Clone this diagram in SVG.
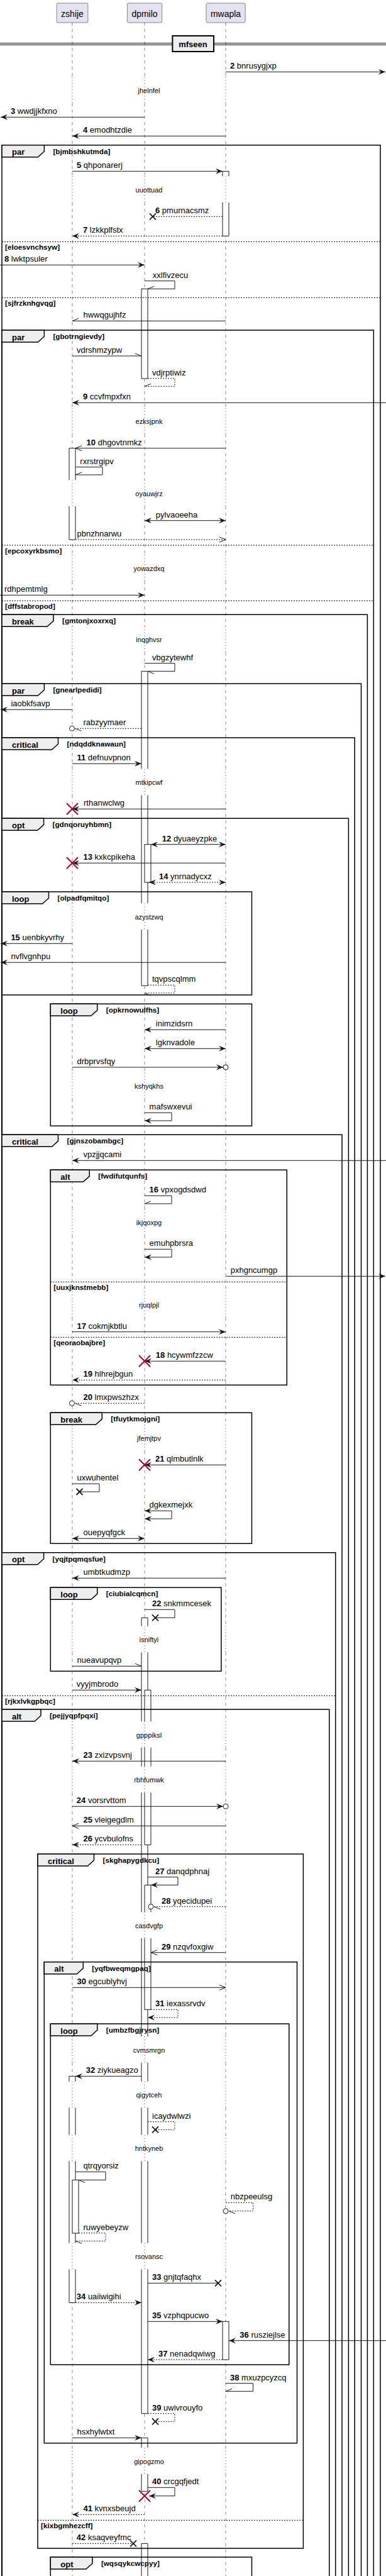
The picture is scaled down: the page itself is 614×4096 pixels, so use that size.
<svg xmlns="http://www.w3.org/2000/svg" width="614" height="4096" viewBox="0 0 614 4096">
<style>
.pb{fill:#E2E2F0;stroke:#181818;stroke-width:0.5}
.pt{font-family:"Liberation Sans",Arial,sans-serif;font-size:14px;text-anchor:middle;fill:#000}
.ll{fill:none;stroke:#181818;stroke-width:0.5;stroke-dasharray:5,5}
.dl{fill:none;stroke:#A80036;stroke-width:1;stroke-dasharray:1,4}
.fr{fill:none;stroke:#000;stroke-width:1.5}
.tab{fill:#EEEEEE;stroke:#000;stroke-width:1.5}
.el{fill:none;stroke:#000;stroke-width:1;stroke-dasharray:2,2}
.tl{font-family:"Liberation Sans",Arial,sans-serif;font-size:13px;font-weight:bold;fill:#000}
.cd{font-family:"Liberation Sans",Arial,sans-serif;font-size:11.7px;font-weight:bold;fill:#000}
.af{fill:#fff;stroke:none}
.as{fill:none;stroke:#181818;stroke-width:1}
.act{fill:#fff;stroke:#181818;stroke-width:1}
.m{fill:none;stroke:#181818;stroke-width:1}
.d{stroke-dasharray:2,2}
.t{font-family:"Liberation Sans",Arial,sans-serif;font-size:13px;fill:#000}
.n{font-weight:bold}
.dt{font-family:"Liberation Sans",Arial,sans-serif;font-size:11px;text-anchor:middle;fill:#000}
.ci{fill:#fff;stroke:#181818;stroke-width:1}
</style>
<defs>
<marker id="fh" markerUnits="userSpaceOnUse" markerWidth="12" markerHeight="10" viewBox="0 0 12 10" refX="11" refY="5" orient="auto-start-reverse" overflow="visible"><path d="M0,0.5 L11,5 L0,9.5 L4,5 Z" fill="#181818" stroke="none"/></marker>
<marker id="oh" markerUnits="userSpaceOnUse" markerWidth="12" markerHeight="10" viewBox="0 0 12 10" refX="10" refY="5" orient="auto-start-reverse" overflow="visible"><path d="M0,1 L10,5 L0,9" fill="none" stroke="#181818" stroke-width="1"/></marker>
<marker id="hu" markerUnits="userSpaceOnUse" markerWidth="12" markerHeight="10" viewBox="0 0 12 10" refX="10" refY="5" orient="auto" overflow="visible"><path d="M0,1 L10,5" fill="none" stroke="#181818" stroke-width="1"/></marker>
<marker id="hl" markerUnits="userSpaceOnUse" markerWidth="12" markerHeight="10" viewBox="0 0 12 10" refX="10" refY="5" orient="auto" overflow="visible"><path d="M0,9 L10,5" fill="none" stroke="#181818" stroke-width="1"/></marker>
<path id="rx" d="M-9 -9 L9 9 M-9 9 L9 -9" fill="none" stroke="#A80036" stroke-width="2"/>
<path id="bx" d="M-5 -5 L5 5 M-5 5 L5 -5" fill="none" stroke="#181818" stroke-width="1.8"/>
<path id="lld" d="M0 36V122.4M0 164V280.4M0 322V648.7M0 690.3V763.4M0 805V882.4M0 924V995.7M0 1037.3V1222.7M0 1264.3V1436.4M0 1478V1705.7M0 1747.3V1922.7M0 1964.3V2053.7M0 2095.3V2265.7M0 2307.3V2585.7M0 2627.3V2737.1M0 2778.7V2808.7M0 2850.3V3040.4M0 3082V3238.1M0 3279.7V3309.7M0 3351.3V3394.7M0 3436.3V3566.7M0 3608.3V3892.1M0 3933.7V4096"/>
<path id="llt" d="M0 122.4V164M0 280.4V322M0 648.7V690.3M0 763.4V805M0 882.4V924M0 995.7V1037.3M0 1222.7V1264.3M0 1436.4V1478M0 1705.7V1747.3M0 1922.7V1964.3M0 2053.7V2095.3M0 2265.7V2307.3M0 2585.7V2627.3M0 2737.1V2778.7M0 2808.7V2850.3M0 3040.4V3082M0 3238.1V3279.7M0 3309.7V3351.3M0 3394.7V3436.3M0 3566.7V3608.3M0 3892.1V3933.7"/>
</defs>
<rect x="0" y="0" width="614" height="4096" fill="#fff"/>

<g id="lifelines">
<use href="#lld" x="115" class="ll"/><use href="#lld" x="230" class="ll"/><use href="#lld" x="359" class="ll"/>
<use href="#llt" x="115" class="dl"/><use href="#llt" x="230" class="dl"/><use href="#llt" x="359" class="dl"/>
</g>

<g id="p-zshije"><rect x="90.1" y="5" width="49.8" height="31" rx="2.5" class="pb"/><text x="115" y="26.5" class="pt">zshije</text></g>
<g id="p-dpmilo"><rect x="202.4" y="5" width="55.3" height="31" rx="2.5" class="pb"/><text x="230" y="26.5" class="pt">dpmilo</text></g>
<g id="p-mwapla"><rect x="327.9" y="5" width="62.3" height="31" rx="2.5" class="pb"/><text x="359" y="26.5" class="pt">mwapla</text></g>

<g id="divider-mfseen">
<line x1="0" y1="68.7" x2="614" y2="68.7" stroke="#000" stroke-width="1"/>
<line x1="0" y1="71.3" x2="614" y2="71.3" stroke="#000" stroke-width="1"/>
<rect x="274.4" y="57" width="65.6" height="25" fill="#EEEEEE" stroke="#000" stroke-width="2"/>
<text x="307" y="74.5" class="tl" text-anchor="middle">mfseen</text>
</g>

<g id="activations">
<rect class="af" x="354" y="272.3" width="10" height="8.1"/><rect class="af" x="354" y="322" width="10" height="53.3"/>
<path class="as" d="M354 280.4V272.3H364V280.4M354 322V375.3H364V322"/>
<rect class="act" x="225" y="459.3" width="10" height="142.7"/>
<rect class="af" x="110" y="712.7" width="10" height="50.7"/><rect class="af" x="110" y="805" width="10" height="53"/>
<path class="as" d="M110 763.4V712.7H120V763.4M110 805V858H120V805"/>
<rect class="af" x="225" y="1067.3" width="10" height="155.4"/><rect class="af" x="225" y="1264.3" width="10" height="172.1"/><rect class="af" x="225" y="1478" width="10" height="89.3"/>
<path class="as" d="M225 1222.7V1067.3H235V1222.7M225 1264.3V1436.4M235 1264.3V1436.4M225 1478V1567.3H235V1478"/>
<rect class="act" x="230" y="1342.7" width="10" height="60.3"/>
<rect class="af" x="225" y="2572.3" width="10" height="13.4"/><rect class="af" x="225" y="2627.3" width="10" height="109.8"/><rect class="af" x="225" y="2778.7" width="10" height="30"/><rect class="af" x="225" y="2850.3" width="10" height="190.1"/><rect class="af" x="225" y="3082" width="10" height="156.1"/><rect class="af" x="225" y="3279.7" width="10" height="30"/><rect class="af" x="225" y="3351.3" width="10" height="43.4"/><rect class="af" x="225" y="3436.3" width="10" height="130.4"/><rect class="af" x="225" y="3608.3" width="10" height="229.4"/>
<path class="as" d="M225 2585.7V2572.3H235V2585.7M225 2627.3V2737.1M235 2627.3V2737.1M225 2778.7V2808.7M235 2778.7V2808.7M225 2850.3V3040.4M235 2850.3V3040.4M225 3082V3238.1M235 3082V3238.1M225 3279.7V3309.7M235 3279.7V3309.7M225 3351.3V3394.7M235 3351.3V3394.7M225 3436.3V3566.7M235 3436.3V3566.7M225 3608.3V3837.7H235V3608.3"/>
<rect class="af" x="230" y="2687.3" width="10" height="49.8"/><rect class="af" x="230" y="2778.7" width="10" height="30"/><rect class="af" x="230" y="2850.3" width="10" height="83"/>
<path class="as" d="M230 2737.1V2687.3H240V2737.1M230 2778.7V2808.7M240 2778.7V2808.7M230 2850.3V2933.3H240V2850.3"/>
<rect class="af" x="230" y="2997.3" width="10" height="43.1"/><rect class="af" x="230" y="3082" width="10" height="113.3"/>
<path class="as" d="M230 3040.4V2997.3H240V3040.4M230 3082V3195.3H240V3082"/>
<rect class="af" x="110" y="3301.3" width="10" height="8.4"/><rect class="af" x="110" y="3351.3" width="10" height="43.4"/><rect class="af" x="110" y="3436.3" width="10" height="130.4"/><rect class="af" x="110" y="3608.3" width="10" height="53"/>
<path class="as" d="M110 3309.7V3301.3H120V3309.7M110 3351.3V3394.7M120 3351.3V3394.7M110 3436.3V3566.7M120 3436.3V3566.7M110 3608.3V3661.3H120V3608.3"/>
<rect class="act" x="115" y="3466.3" width="10" height="84.7"/>
<rect class="act" x="354" y="3691.3" width="10" height="60.7"/>
<rect class="af" x="225" y="3876.3" width="10" height="15.8"/><rect class="af" x="225" y="3933.7" width="10" height="27.6"/>
<path class="as" d="M225 3892.1V3876.3H235V3892.1M225 3933.7V3961.3H235V3933.7"/>
<rect class="af" x="225" y="4044.3" width="10" height="55.7"/>
<path class="as" d="M225 4100V4044.3H235V4100"/>
</g>

<g id="frames">
<g id="f1"><path class="fr" d="M3 4100V230.7H605V4100"/><path class="tab" d="M3 230.7H70.4V240.7L60.4 249.7H3Z"/><text class="tl" x="19" y="246.2">par</text><text class="cd" x="84.4" y="244.7">[bjmbshkutmda]</text>
<line class="el" x1="3" y1="384.3" x2="605" y2="384.3"/><text class="cd" x="8" y="396.8">[eloesvnchsyw]</text>
<line class="el" x1="3" y1="473.3" x2="605" y2="473.3"/><text class="cd" x="8" y="485.8">[sjfrzknhgvqg]</text></g>
<g id="f2"><path class="fr" d="M3 4100V525H594.3V4100"/><path class="tab" d="M3 525H70.4V535L60.4 544H3Z"/><text class="tl" x="19" y="540.5">par</text><text class="cd" x="84.4" y="539">[gbotrngievdy]</text>
<line class="el" x1="3" y1="867" x2="594.3" y2="867"/><text class="cd" x="8" y="879.5">[epcoxyrkbsmo]</text>
<line class="el" x1="3" y1="955.3" x2="594.3" y2="955.3"/><text class="cd" x="8" y="967.8">[dffstabropod]</text></g>
<g id="f3"><path class="fr" d="M3 4100V977.3H584.4V4100"/><path class="tab" d="M3 977.3H85V987.3L75 996.3H3Z"/><text class="tl" x="19" y="992.8">break</text><text class="cd" x="99" y="991.3">[gmtonjxoxrxq]</text></g>
<g id="f4"><path class="fr" d="M3 4100V1087H574.5V4100"/><path class="tab" d="M3 1087H70.4V1097L60.4 1106H3Z"/><text class="tl" x="19" y="1102.5">par</text><text class="cd" x="84.4" y="1101">[gnearlpedidi]</text></g>
<g id="f5"><path class="fr" d="M3 4100V1173H564.2V4100"/><path class="tab" d="M3 1173H92.5V1183L82.5 1192H3Z"/><text class="tl" x="19" y="1188.5">critical</text><text class="cd" x="106.5" y="1187">[ndqddknawaun]</text></g>
<g id="f6"><path class="fr" d="M3 4100V1301.3H554.4V4100"/><path class="tab" d="M3 1301.3H69.6V1311.3L59.6 1320.3H3Z"/><text class="tl" x="19" y="1316.8">opt</text><text class="cd" x="83.6" y="1315.3">[gdnqoruyhbmn]</text></g>
<g id="f7"><rect class="fr" x="3" y="1418" width="397.5" height="164"/><path class="tab" d="M3 1418H77.5V1428L67.5 1437H3Z"/><text class="tl" x="19" y="1433.5">loop</text><text class="cd" x="91.5" y="1432">[olpadfqmitqo]</text></g>
<g id="f8"><rect class="fr" x="80.3" y="1596.3" width="320.2" height="194"/><path class="tab" d="M80.3 1596.3H154.8V1606.3L144.8 1615.3H80.3Z"/><text class="tl" x="96.3" y="1611.8">loop</text><text class="cd" x="168.8" y="1610.3">[opkrnowulfhs]</text></g>
<g id="f9"><path class="fr" d="M3 4100V1804.3H544V4100"/><path class="tab" d="M3 1804.3H92.5V1814.3L82.5 1823.3H3Z"/><text class="tl" x="19" y="1819.8">critical</text><text class="cd" x="106.5" y="1818.3">[gjnszobambgc]</text></g>
<g id="f10"><rect class="fr" x="80.3" y="1860.3" width="376" height="342"/><path class="tab" d="M80.3 1860.3H142.3V1870.3L132.3 1879.3H80.3Z"/><text class="tl" x="96.3" y="1875.8">alt</text><text class="cd" x="156.3" y="1874.3">[fwdifutqunfs]</text>
<line class="el" x1="80.3" y1="2038.3" x2="456.3" y2="2038.3"/><text class="cd" x="85.3" y="2050.8">[uuxjknstmebb]</text>
<line class="el" x1="80.3" y1="2126.3" x2="456.3" y2="2126.3"/><text class="cd" x="85.3" y="2138.8">[qeoraobajbre]</text></g>
<g id="f11"><rect class="fr" x="80.3" y="2246.3" width="320.2" height="208"/><path class="tab" d="M80.3 2246.3H162.3V2256.3L152.3 2265.3H80.3Z"/><text class="tl" x="96.3" y="2261.8">break</text><text class="cd" x="176.3" y="2260.3">[tfuytkmojgni]</text></g>
<g id="f12"><path class="fr" d="M3 4100V2468.7H533.7V4100"/><path class="tab" d="M3 2468.7H69.6V2478.7L59.6 2487.7H3Z"/><text class="tl" x="19" y="2484.2">opt</text><text class="cd" x="83.6" y="2482.7">[yqjtpqmqsfue]</text>
<line class="el" x1="3" y1="2696.3" x2="533.7" y2="2696.3"/><text class="cd" x="8" y="2708.8">[rjkxlvkgpbqc]</text></g>
<g id="f13"><rect class="fr" x="80.3" y="2524.3" width="271.6" height="133"/><path class="tab" d="M80.3 2524.3H154.8V2534.3L144.8 2543.3H80.3Z"/><text class="tl" x="96.3" y="2539.8">loop</text><text class="cd" x="168.8" y="2538.3">[ciubialcqmcn]</text></g>
<g id="f14"><path class="fr" d="M3 4100V2718H523.8V4100"/><path class="tab" d="M3 2718H65V2728L55 2737H3Z"/><text class="tl" x="19" y="2733.5">alt</text><text class="cd" x="79" y="2732">[pejjyqpfpqxi]</text></g>
<g id="f15"><rect class="fr" x="60" y="2948" width="422.4" height="1104"/><path class="tab" d="M60 2948H149.5V2958L139.5 2967H60Z"/><text class="tl" x="76" y="2963.5">critical</text><text class="cd" x="163.5" y="2962">[skghapygdkcu]</text>
<line class="el" x1="60" y1="4007.3" x2="482.4" y2="4007.3"/><text class="cd" x="65" y="4019.8">[kixbgmhezcff]</text></g>
<g id="f16"><rect class="fr" x="70.3" y="3119.7" width="402.2" height="765"/><path class="tab" d="M70.3 3119.7H132.3V3129.7L122.3 3138.7H70.3Z"/><text class="tl" x="86.3" y="3135.2">alt</text><text class="cd" x="146.3" y="3133.7">[yqfbweqmgpaq]</text></g>
<g id="f17"><rect class="fr" x="80.3" y="3218" width="379.5" height="542"/><path class="tab" d="M80.3 3218H154.8V3228L144.8 3237H80.3Z"/><text class="tl" x="96.3" y="3233.5">loop</text><text class="cd" x="168.8" y="3232">[umbzfbgjrysn]</text></g>
<g id="f18"><path class="fr" d="M80.3 4100V4066H400.5V4100"/><path class="tab" d="M80.3 4066H146.9V4076L136.9 4085H80.3Z"/><text class="tl" x="96.3" y="4081.5">opt</text><text class="cd" x="160.9" y="4080">[wqsqykcwcpyy]</text></g>
</g>

<g id="connectors">
<path class="m" d="M359 114.3H613" marker-end="url(#fh)"/>
<path class="m" d="M230 186.3H1" marker-end="url(#fh)"/>
<path class="m" d="M359 216.3H115" marker-end="url(#fh)"/>
<path class="m" d="M115 272.3H354" marker-end="url(#fh)"/>
<path class="m d" d="M354 344.3H243"/><use href="#bx" x="243" y="344.3"/>
<path class="m d" d="M354 375.3H115" marker-end="url(#fh)"/>
<path class="m" d="M0 421.3H230" marker-end="url(#fh)"/>
<path class="m" d="M230 446.7H278V459.3H235" marker-end="url(#hl)"/>
<path class="m" d="M359 510.3H115" marker-end="url(#hl)"/>
<path class="m" d="M115 566H225" marker-end="url(#hu)"/>
<path class="m d" d="M235 601.7H278V614.3H230" marker-end="url(#hl)"/>
<path class="m" d="M614 640.3H115" marker-end="url(#fh)"/>
<path class="m" d="M359 712.7H120" marker-end="url(#oh)"/>
<path class="m" d="M120 742.7H163V755H120" marker-end="url(#hl)"/>
<path class="m" d="M230 827.7H359" marker-start="url(#fh)" marker-end="url(#fh)"/>
<path class="m d" d="M120 858H359" marker-end="url(#oh)"/>
<path class="m" d="M0 946.3H230" marker-end="url(#fh)"/>
<path class="m" d="M230 1054.7H278V1067.3H235" marker-end="url(#hu)"/>
<path class="m" d="M115 1128.3H1" marker-end="url(#fh)"/>
<path class="m d" d="M225 1158.3H119.5" marker-end="url(#hu)"/><circle class="ci" cx="114.5" cy="1158.3" r="4"/>
<path class="m" d="M115 1214.3H225" marker-end="url(#fh)"/>
<path class="m" d="M359 1286.3H115" marker-end="url(#fh)"/><use href="#rx" x="115" y="1286.3"/>
<path class="m" d="M240 1342.7H359" marker-start="url(#fh)" marker-end="url(#fh)"/>
<path class="m" d="M359 1372.3H115" marker-end="url(#fh)"/><use href="#rx" x="115" y="1372.3"/>
<path class="m d" d="M237 1403H359" marker-start="url(#fh)" marker-end="url(#fh)"/>
<path class="m" d="M115 1500.3H1" marker-end="url(#fh)"/>
<path class="m" d="M359 1530.3H1" marker-end="url(#fh)"/>
<path class="m d" d="M235 1566.3H278V1579H230" marker-end="url(#hu)"/>
<path class="m" d="M359 1637.3H230" marker-end="url(#fh)"/>
<path class="m" d="M230 1667.3H359" marker-start="url(#fh)" marker-end="url(#fh)"/>
<path class="m" d="M115 1697H355" marker-end="url(#fh)"/><circle class="ci" cx="359" cy="1697" r="4"/>
<path class="m" d="M230 1769.3H273V1782H230" marker-end="url(#fh)"/>
<path class="m" d="M614 1845.3H115" marker-end="url(#fh)"/>
<path class="m" d="M230 1901.3H273V1914H230" marker-end="url(#hl)"/>
<path class="m" d="M230 1986.3H273V1999H230" marker-end="url(#fh)"/>
<path class="m" d="M359 2029.3H613" marker-end="url(#fh)"/>
<path class="m" d="M115 2117.7H359" marker-end="url(#fh)"/>
<path class="m" d="M359 2164.3H230" marker-end="url(#fh)"/><use href="#rx" x="230" y="2164.3"/>
<path class="m d" d="M359 2194.3H115" marker-end="url(#fh)"/>
<path class="m d" d="M230 2231.3H119.5" marker-end="url(#hu)"/><circle class="ci" cx="114.5" cy="2231.3" r="4"/>
<path class="m" d="M359 2329.3H230" marker-end="url(#fh)"/><use href="#rx" x="230" y="2329.3"/>
<path class="m" d="M115 2359.3H158V2372H126.5"/><use href="#bx" x="126.5" y="2372"/>
<path class="m" d="M230 2402.3H273V2415H230" marker-start="url(#fh)" marker-end="url(#fh)"/>
<path class="m" d="M115 2446.3H230" marker-start="url(#fh)" marker-end="url(#fh)"/>
<path class="m" d="M359 2509.3H115" marker-end="url(#fh)"/>
<path class="m" d="M230 2559.3H278V2572.3H247"/><use href="#bx" x="247" y="2572.3"/>
<path class="m" d="M115 2649.3H225" marker-end="url(#hu)"/>
<path class="m" d="M115 2687.3H225" marker-end="url(#fh)"/>
<path class="m" d="M359 2800.3H115" marker-end="url(#fh)"/>
<path class="m" d="M115 2872.3H355" marker-end="url(#fh)"/><circle class="ci" cx="359" cy="2872.3" r="4"/>
<path class="m" d="M359 2903.3H115" marker-end="url(#oh)"/>
<path class="m d" d="M225 2933.3H115" marker-end="url(#fh)"/>
<path class="m" d="M235 2984.7H283V2997.3H240" marker-end="url(#fh)"/>
<path class="m d" d="M359 3031.7H245" marker-end="url(#hu)"/><circle class="ci" cx="240" cy="3031.7" r="4"/>
<path class="m" d="M359 3104.7H240" marker-end="url(#oh)"/>
<path class="m" d="M115 3160.3H359" marker-end="url(#oh)"/>
<path class="m d" d="M240 3195.3H283V3208H235" marker-end="url(#fh)"/>
<path class="m" d="M225 3301.3H120" marker-end="url(#fh)"/>
<path class="m d" d="M235 3373.7H278V3386.3H247"/><use href="#bx" x="247" y="3386.3"/>
<path class="m" d="M120 3453.3H168V3466.3H125" marker-end="url(#hu)"/>
<path class="m d" d="M359 3502.3H402.5V3515.7H364" marker-end="url(#hu)"/><circle class="ci" cx="359" cy="3515.7" r="4"/>
<path class="m d" d="M125 3550.7H168V3563.3H120" marker-end="url(#hu)"/>
<path class="m" d="M235 3630.3H347"/><use href="#bx" x="347" y="3630.3"/>
<path class="m d" d="M120 3661.3H225" marker-end="url(#fh)"/>
<path class="m" d="M235 3691.3H354" marker-end="url(#fh)"/>
<path class="m" d="M614 3721.7H364" marker-end="url(#fh)"/>
<path class="m d" d="M354 3752H235" marker-end="url(#fh)"/>
<path class="m" d="M359 3789.7H402.5V3802.3H359" marker-end="url(#hl)"/>
<path class="m d" d="M235 3837.7H278V3850.3H247"/><use href="#bx" x="247" y="3850.3"/>
<path class="m" d="M115 3876.3H225" marker-end="url(#fh)"/>
<path class="m" d="M235 3955.3H278V3968.7H237" marker-end="url(#fh)"/><use href="#rx" x="230" y="3968.7"/>
<path class="m d" d="M230 3998.3H115" marker-end="url(#fh)"/>
<path class="m d" d="M115 4044.3H212"/><use href="#bx" x="212" y="4044.3"/>
</g>

<g id="message-labels">
<text class="t" x="366" y="109.3"><tspan class="n">2</tspan> bnrusygjxp</text>
<text class="t" x="17" y="181.3"><tspan class="n">3</tspan> wwdjjkfxno</text>
<text class="t" x="132" y="211.3"><tspan class="n">4</tspan> emodhtzdie</text>
<text class="t" x="122" y="267.3"><tspan class="n">5</tspan> qhponarerj</text>
<text class="t" x="247" y="339.3"><tspan class="n">6</tspan> pmurnacsmz</text>
<text class="t" x="132" y="370.3"><tspan class="n">7</tspan> lzkkplfstx</text>
<text class="t" x="7" y="416.3"><tspan class="n">8</tspan> lwktpsuler</text>
<text class="t" x="242.8" y="441.7">xxlfivzecu</text>
<text class="t" x="132.5" y="505.3">hwwqgujhfz</text>
<text class="t" x="122" y="561">vdrshmzypw</text>
<text class="t" x="242" y="596.7">vdjrptiwiz</text>
<text class="t" x="132" y="635.3"><tspan class="n">9</tspan> ccvfmpxfxn</text>
<text class="t" x="137.6" y="707.7"><tspan class="n">10</tspan> dhgovtnmkz</text>
<text class="t" x="127.3" y="737.7">rxrstrgipv</text>
<text class="t" x="247.8" y="822.7">pylvaoeeha</text>
<text class="t" x="122.5" y="853">pbnzhnarwu</text>
<text class="t" x="7" y="941.3">rdhpemtmlg</text>
<text class="t" x="242" y="1049.7">vbgzytewhf</text>
<text class="t" x="17.4" y="1123.3">iaobkfsavp</text>
<text class="t" x="132.5" y="1153.3">rabzyymaer</text>
<text class="t" x="122.5" y="1209.3"><tspan class="n">11</tspan> defnuvpnon</text>
<text class="t" x="133" y="1281.3">rthanwclwg</text>
<text class="t" x="257.8" y="1337.7"><tspan class="n">12</tspan> dyuaeyzpke</text>
<text class="t" x="132.5" y="1367.3"><tspan class="n">13</tspan> kxkcpikeha</text>
<text class="t" x="253" y="1398"><tspan class="n">14</tspan> ynrnadycxz</text>
<text class="t" x="17.4" y="1495.3"><tspan class="n">15</tspan> uenbkyvrhy</text>
<text class="t" x="17.4" y="1525.3">nvflvgnhpu</text>
<text class="t" x="242" y="1561.3">tqvpscqlmm</text>
<text class="t" x="247.8" y="1632.3">inimzidsrn</text>
<text class="t" x="247.8" y="1662.3">lgknvadole</text>
<text class="t" x="122.5" y="1692">drbprvsfqy</text>
<text class="t" x="237.6" y="1764.3">mafswxevui</text>
<text class="t" x="132.5" y="1840.3">vpzjjqcami</text>
<text class="t" x="237.6" y="1896.3"><tspan class="n">16</tspan> vpxogdsdwd</text>
<text class="t" x="237.6" y="1981.3">emuhpbrsra</text>
<text class="t" x="366.7" y="2024.3">pxhgncumgp</text>
<text class="t" x="122.5" y="2112.7"><tspan class="n">17</tspan> cokmjkbtlu</text>
<text class="t" x="247.8" y="2159.3"><tspan class="n">18</tspan> hcywmfzzcw</text>
<text class="t" x="132.5" y="2189.3"><tspan class="n">19</tspan> hlhrejbgun</text>
<text class="t" x="132.5" y="2226.3"><tspan class="n">20</tspan> lmxpwszhzx</text>
<text class="t" x="247" y="2324.3"><tspan class="n">21</tspan> qlmbutlnlk</text>
<text class="t" x="122.5" y="2354.3">uxwuhentel</text>
<text class="t" x="237.6" y="2397">dgkexmejxk</text>
<text class="t" x="132.5" y="2441.3">ouepyqfgck</text>
<text class="t" x="132.5" y="2504.3">umbtkudmzp</text>
<text class="t" x="242" y="2554.3"><tspan class="n">22</tspan> snkmmcesek</text>
<text class="t" x="122.5" y="2644.3">nueavupqvp</text>
<text class="t" x="121.8" y="2682.3">vyyjmbrodo</text>
<text class="t" x="132.5" y="2795.3"><tspan class="n">23</tspan> zxizvpsvnj</text>
<text class="t" x="121.8" y="2867.3"><tspan class="n">24</tspan> vorsrvttom</text>
<text class="t" x="132.5" y="2898.3"><tspan class="n">25</tspan> vleigegdlm</text>
<text class="t" x="132.5" y="2928.3"><tspan class="n">26</tspan> ycvbulofns</text>
<text class="t" x="247" y="2979.7"><tspan class="n">27</tspan> danqdphnaj</text>
<text class="t" x="257" y="3026.7"><tspan class="n">28</tspan> yqecidupei</text>
<text class="t" x="257" y="3099.7"><tspan class="n">29</tspan> nzqvfoxgiw</text>
<text class="t" x="122.5" y="3155.3"><tspan class="n">30</tspan> egcublyhvj</text>
<text class="t" x="247" y="3190.3"><tspan class="n">31</tspan> iexassrvdv</text>
<text class="t" x="136.7" y="3296.3"><tspan class="n">32</tspan> ziykueagzo</text>
<text class="t" x="242" y="3368.7">icaydwlwzi</text>
<text class="t" x="132.5" y="3448.3">qtrqyorsiz</text>
<text class="t" x="366.7" y="3497.3">nbzpeeulsg</text>
<text class="t" x="132.5" y="3545.7">ruwyebeyzw</text>
<text class="t" x="242" y="3625.3"><tspan class="n">33</tspan> gnjtqfaqhx</text>
<text class="t" x="121.8" y="3656.3"><tspan class="n">34</tspan> uaiiwigihi</text>
<text class="t" x="242" y="3686.3"><tspan class="n">35</tspan> vzphqpucwo</text>
<text class="t" x="381.3" y="3716.7"><tspan class="n">36</tspan> rusziejlse</text>
<text class="t" x="252" y="3747"><tspan class="n">37</tspan> nenadqwiwg</text>
<text class="t" x="366" y="3784.7"><tspan class="n">38</tspan> mxuzpcyzcq</text>
<text class="t" x="242" y="3832.7"><tspan class="n">39</tspan> uwivrouyfo</text>
<text class="t" x="122.5" y="3871.3">hsxhylwtxt</text>
<text class="t" x="242" y="3950.3"><tspan class="n">40</tspan> crcgqfjedt</text>
<text class="t" x="132.5" y="3993.3"><tspan class="n">41</tspan> kvnxsbeujd</text>
<text class="t" x="121.8" y="4039.3"><tspan class="n">42</tspan> ksaqveyfmc</text>
</g>

<g id="delays">
<text class="dt" x="237" y="148">jhelnfel</text>
<text class="dt" x="237" y="306">uuottuad</text>
<text class="dt" x="237" y="674.3">ezksjpnk</text>
<text class="dt" x="237" y="789">oyauwjrz</text>
<text class="dt" x="237" y="908">yowazdxq</text>
<text class="dt" x="237" y="1021.3">inqghvsr</text>
<text class="dt" x="237" y="1248.3">mtkipcwf</text>
<text class="dt" x="237" y="1462">azystzwq</text>
<text class="dt" x="237" y="1731.3">kshyqkhs</text>
<text class="dt" x="237" y="1948.3">ikjqoxpg</text>
<text class="dt" x="237" y="2079.3">rjuqlpjl</text>
<text class="dt" x="237" y="2291.3">jfemjtpv</text>
<text class="dt" x="237" y="2611.3">isniftyi</text>
<text class="dt" x="237" y="2762.7">gpppiksl</text>
<text class="dt" x="237" y="2834.3">rbhfumwk</text>
<text class="dt" x="237" y="3066">casdvgfp</text>
<text class="dt" x="237" y="3263.7">cvmsmrgn</text>
<text class="dt" x="237" y="3335.3">qigytceh</text>
<text class="dt" x="237" y="3420.3">hntkyneb</text>
<text class="dt" x="237" y="3592.3">rsovansc</text>
<text class="dt" x="237" y="3917.7">gipogzmo</text>
</g>
</svg>
